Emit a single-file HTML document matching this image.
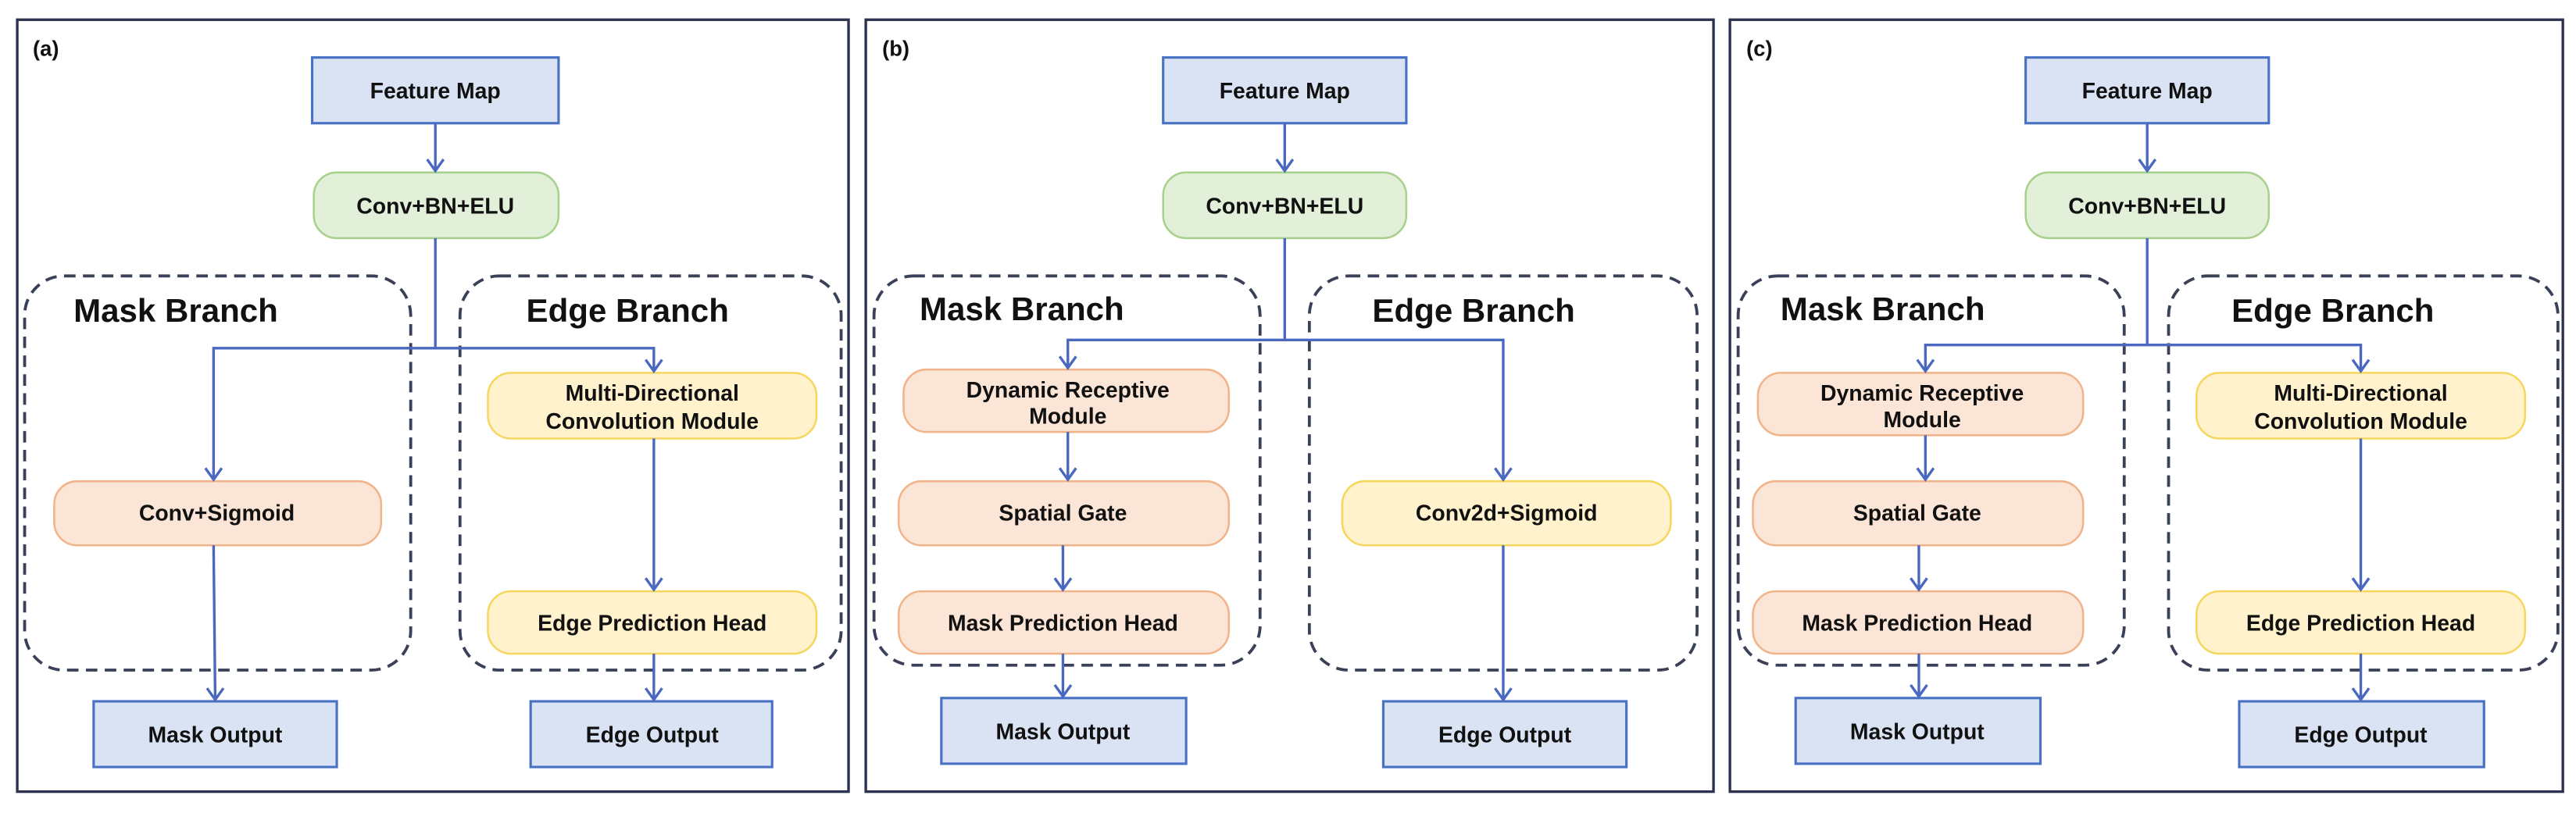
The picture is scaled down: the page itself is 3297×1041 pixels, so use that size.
<!DOCTYPE html>
<html><head><meta charset="utf-8"><style>
html,body{margin:0;padding:0;background:#fff;}
svg{display:block;}
text{font-family:"Liberation Sans",Arial,sans-serif;font-weight:bold;fill:#111;text-anchor:middle;}
.n{font-size:13.5px;}
.t{font-size:20px;}
.lbl{font-size:13px;text-anchor:start;}
.bl{fill:#dae3f3;stroke:#4a72c4;stroke-width:1.5;}
.gr{fill:#e2f0d9;stroke:#a9d18e;stroke-width:1.2;}
.or{fill:#fbe5d6;stroke:#f1b48a;stroke-width:1.2;}
.ye{fill:#fff2cc;stroke:#f5d65e;stroke-width:1.2;}
.ln{fill:none;stroke:#4a68c0;stroke-width:1.6;}
.ds{fill:none;stroke:#3a4058;stroke-width:1.8;stroke-dasharray:7 4.5;}
.pn{fill:none;stroke:#2c3350;stroke-width:1.6;}
</style></head><body>
<svg width="3297" height="1041" viewBox="0 0 1568 495" preserveAspectRatio="none" xmlns="http://www.w3.org/2000/svg">

<!-- Panel a -->
<g>
<rect class="pn" x="10.5" y="12" width="506" height="470"/>
<text class="lbl" x="20" y="34">(a)</text>
<rect class="bl" x="190" y="35" width="150" height="40"/><text class="n" x="265" y="60">Feature Map</text>
<rect class="gr" x="191" y="105" width="149" height="40" rx="14"/><text class="n" x="265" y="130">Conv+BN+ELU</text>
<rect class="ds" x="15" y="168" width="235" height="240" rx="24"/>
<rect class="ds" x="280" y="168" width="232" height="240" rx="24"/>
<text class="t" x="107" y="196">Mask Branch</text>
<text class="t" x="382" y="196">Edge Branch</text>
<polyline class="ln" points="265,75 265,104"/>
<polyline class="ln" points="265,145 265,212"/>
<polyline class="ln" points="130,292 130,212 398,212 398,226"/>
<rect class="or" x="33" y="293" width="199" height="39" rx="14"/><text class="n" x="132" y="317">Conv+Sigmoid</text>
<rect class="ye" x="297" y="227" width="200" height="40" rx="14"/><text class="n" x="397" y="244">Multi-Directional</text><text class="n" x="397" y="261">Convolution Module</text>
<rect class="ye" x="297" y="360" width="200" height="38" rx="14"/><text class="n" x="397" y="384">Edge Prediction Head</text>
<polyline class="ln" points="130,332 131,426"/>
<polyline class="ln" points="398,267 398,359"/>
<polyline class="ln" points="398,398 398,426"/>
<rect class="bl" x="57" y="427" width="148" height="40"/><text class="n" x="131" y="452">Mask Output</text>
<rect class="bl" x="323" y="427" width="147" height="40"/><text class="n" x="397" y="452">Edge Output</text>
<g class="ln">
<polyline points="260,97 265,104 270,97"/>
<polyline points="125,285 130,292 135,285"/>
<polyline points="393,219 398,226 403,219"/>
<polyline points="126,419 131,426 136,419"/>
<polyline points="393,352 398,359 403,352"/>
<polyline points="393,419 398,426 403,419"/>
</g>
</g>

<!-- Panel b -->
<g>
<rect class="pn" x="527" y="12" width="516" height="470"/>
<text class="lbl" x="537" y="34">(b)</text>
<rect class="bl" x="708" y="35" width="148" height="40"/><text class="n" x="782" y="60">Feature Map</text>
<rect class="gr" x="708" y="105" width="148" height="40" rx="14"/><text class="n" x="782" y="130">Conv+BN+ELU</text>
<rect class="ds" x="532" y="168" width="235" height="237" rx="24"/>
<rect class="ds" x="797" y="168" width="236" height="240" rx="24"/>
<text class="t" x="622" y="195">Mask Branch</text>
<text class="t" x="897" y="196">Edge Branch</text>
<polyline class="ln" points="782,75 782,104"/>
<polyline class="ln" points="782,145 782,207"/>
<polyline class="ln" points="650,224 650,207 915,207 915,292"/>
<rect class="or" x="550" y="225" width="198" height="38" rx="14"/><text class="n" x="650" y="242">Dynamic Receptive</text><text class="n" x="650" y="258">Module</text>
<rect class="or" x="547" y="293" width="201" height="39" rx="14"/><text class="n" x="647" y="317">Spatial Gate</text>
<rect class="or" x="547" y="360" width="201" height="38" rx="14"/><text class="n" x="647" y="384">Mask Prediction Head</text>
<rect class="ye" x="817" y="293" width="200" height="39" rx="14"/><text class="n" x="917" y="317">Conv2d+Sigmoid</text>
<polyline class="ln" points="650,263 650,292"/>
<polyline class="ln" points="647,332 647,359"/>
<polyline class="ln" points="647,398 647,424"/>
<polyline class="ln" points="915,332 915,426"/>
<rect class="bl" x="573" y="425" width="149" height="40"/><text class="n" x="647" y="450">Mask Output</text>
<rect class="bl" x="842" y="427" width="148" height="40"/><text class="n" x="916" y="452">Edge Output</text>
<g class="ln">
<polyline points="777,97 782,104 787,97"/>
<polyline points="645,217 650,224 655,217"/>
<polyline points="910,285 915,292 920,285"/>
<polyline points="645,285 650,292 655,285"/>
<polyline points="642,352 647,359 652,352"/>
<polyline points="642,417 647,424 652,417"/>
<polyline points="910,419 915,426 920,419"/>
</g>
</g>

<!-- Panel c -->
<g>
<rect class="pn" x="1053" y="12" width="507" height="470"/>
<text class="lbl" x="1063" y="34">(c)</text>
<rect class="bl" x="1233" y="35" width="148" height="40"/><text class="n" x="1307" y="60">Feature Map</text>
<rect class="gr" x="1233" y="105" width="148" height="40" rx="14"/><text class="n" x="1307" y="130">Conv+BN+ELU</text>
<rect class="ds" x="1058" y="168" width="235" height="237" rx="24"/>
<rect class="ds" x="1320" y="168" width="237" height="240" rx="24"/>
<text class="t" x="1146" y="195">Mask Branch</text>
<text class="t" x="1420" y="196">Edge Branch</text>
<polyline class="ln" points="1307,75 1307,104"/>
<polyline class="ln" points="1307,145 1307,210"/>
<polyline class="ln" points="1172,226 1172,210 1437,210 1437,226"/>
<rect class="or" x="1070" y="227" width="198" height="38" rx="14"/><text class="n" x="1170" y="244">Dynamic Receptive</text><text class="n" x="1170" y="260">Module</text>
<rect class="or" x="1067" y="293" width="201" height="39" rx="14"/><text class="n" x="1167" y="317">Spatial Gate</text>
<rect class="or" x="1067" y="360" width="201" height="38" rx="14"/><text class="n" x="1167" y="384">Mask Prediction Head</text>
<rect class="ye" x="1337" y="227" width="200" height="40" rx="14"/><text class="n" x="1437" y="244">Multi-Directional</text><text class="n" x="1437" y="261">Convolution Module</text>
<rect class="ye" x="1337" y="360" width="200" height="38" rx="14"/><text class="n" x="1437" y="384">Edge Prediction Head</text>
<polyline class="ln" points="1172,265 1172,292"/>
<polyline class="ln" points="1168,332 1168,359"/>
<polyline class="ln" points="1168,398 1168,424"/>
<polyline class="ln" points="1437,267 1437,359"/>
<polyline class="ln" points="1437,398 1437,426"/>
<rect class="bl" x="1093" y="425" width="149" height="40"/><text class="n" x="1167" y="450">Mask Output</text>
<rect class="bl" x="1363" y="427" width="149" height="40"/><text class="n" x="1437" y="452">Edge Output</text>
<g class="ln">
<polyline points="1302,97 1307,104 1312,97"/>
<polyline points="1167,219 1172,226 1177,219"/>
<polyline points="1432,219 1437,226 1442,219"/>
<polyline points="1167,285 1172,292 1177,285"/>
<polyline points="1163,352 1168,359 1173,352"/>
<polyline points="1163,417 1168,424 1173,417"/>
<polyline points="1432,352 1437,359 1442,352"/>
<polyline points="1432,419 1437,426 1442,419"/>
</g>
</g>
</svg>
</body></html>
